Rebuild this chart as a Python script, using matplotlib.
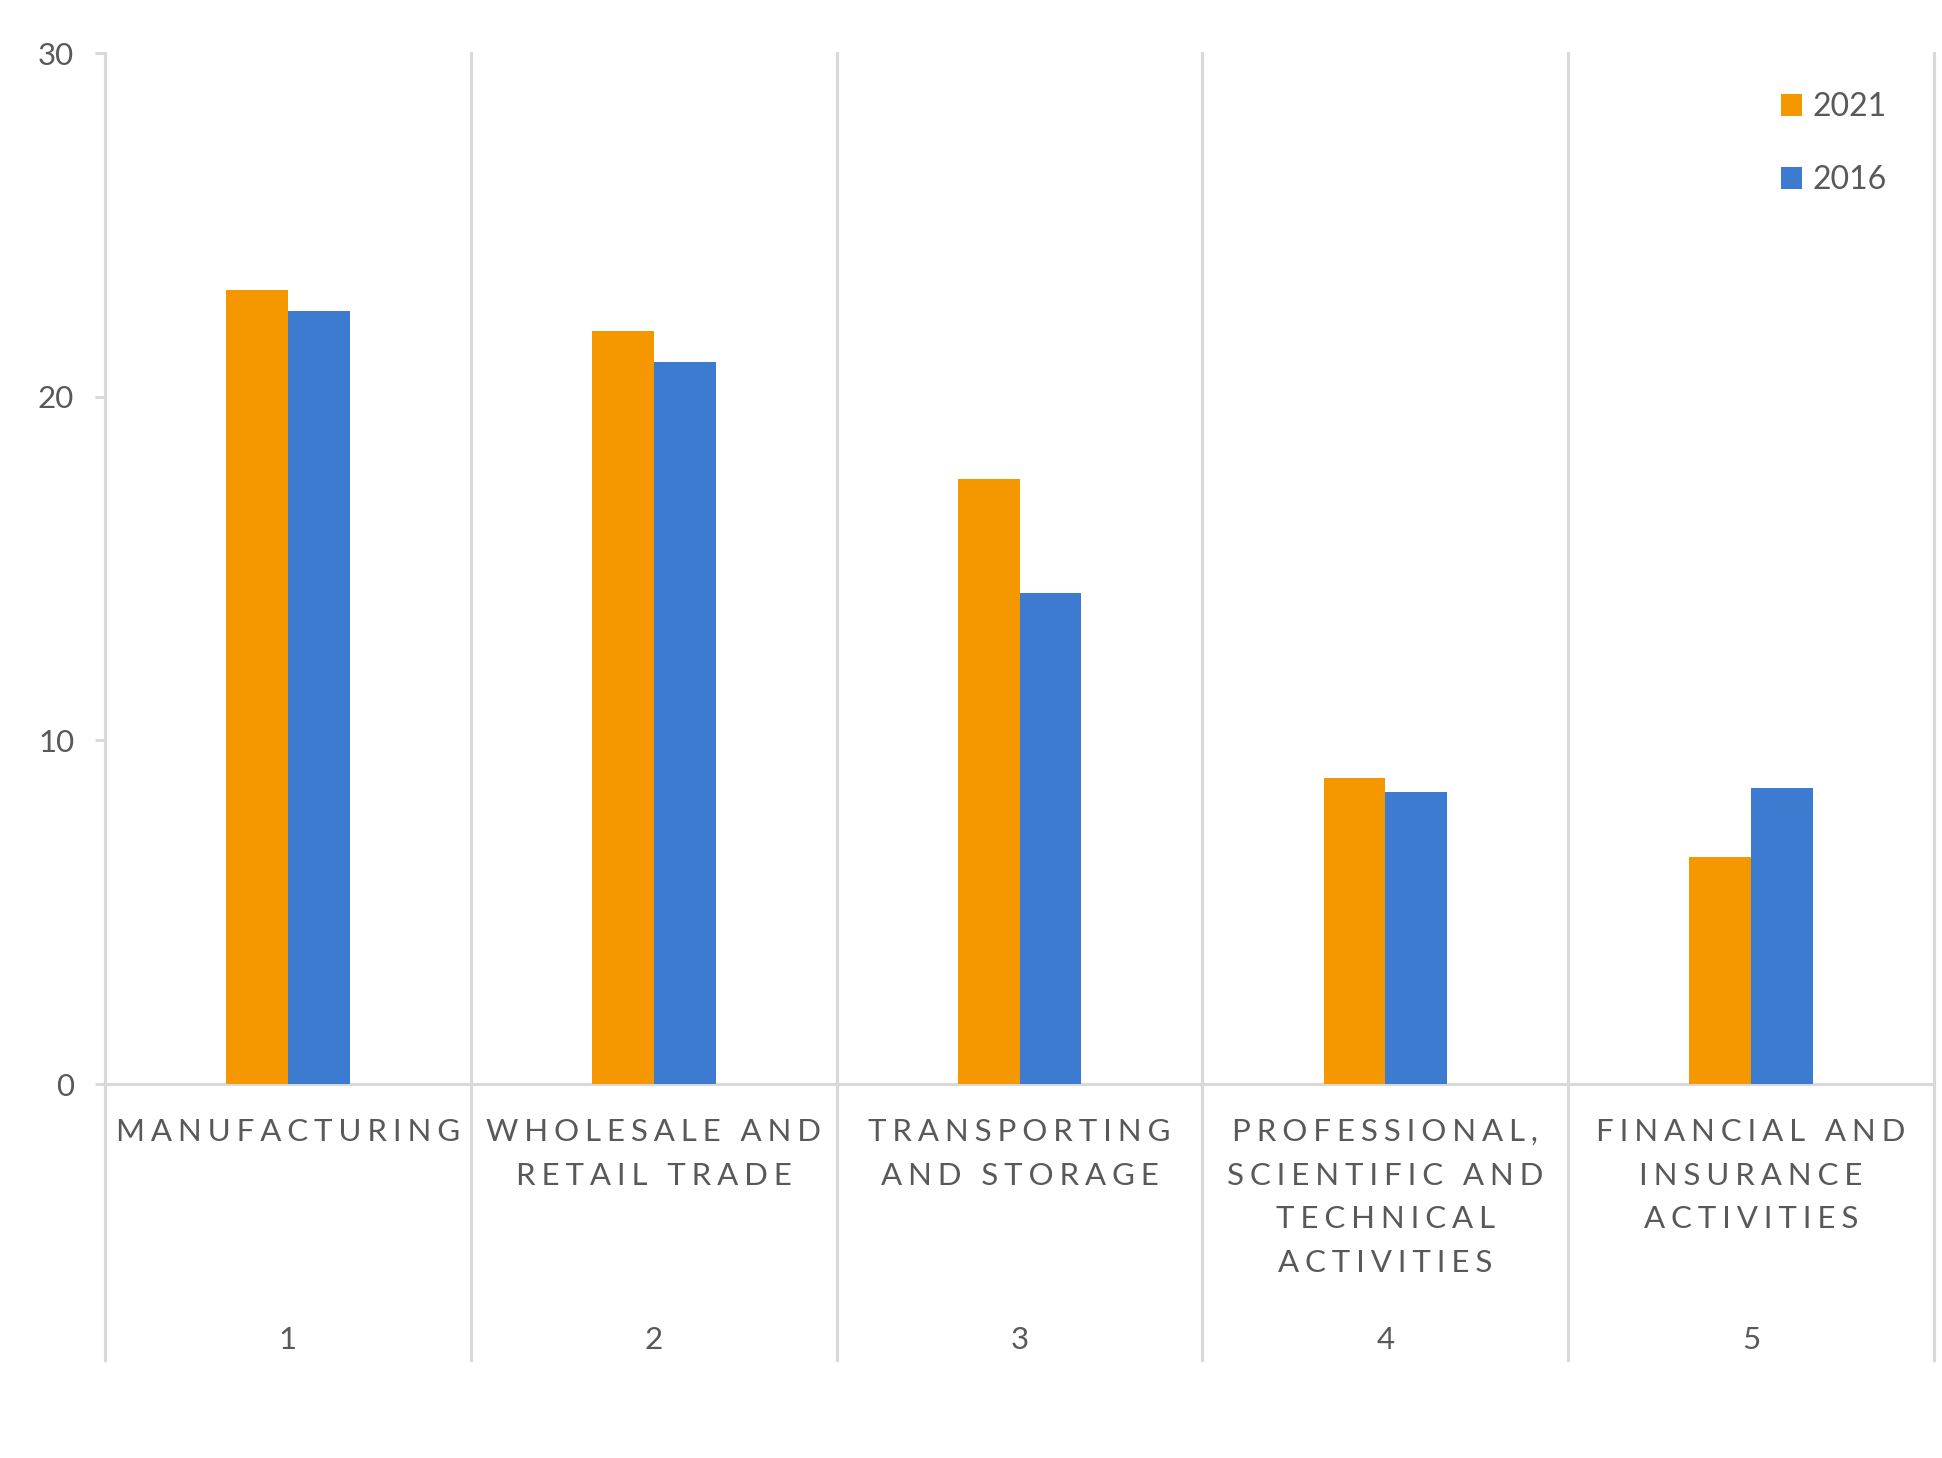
import matplotlib as mpl
mpl.use('agg')
import matplotlib.pyplot as plt
import matplotlib.transforms as mtransforms
import numpy as np

# data
categories = ['MANUFACTURING', 'WHOLESALE AND\nRETAIL TRADE', 'TRANSPORTING\nAND STORAGE',
              'PROFESSIONAL,\nSCIENTIFIC AND\nTECHNICAL\nACTIVITIES',
              'FINANCIAL AND\nINSURANCE\nACTIVITIES']
ranks = ['1', '2', '3', '4', '5']
vals_2021 = [23.1, 21.9, 17.6, 8.9, 6.6]
vals_2016 = [22.5, 21.0, 14.3, 8.5, 8.6]
yticks = [0, 10, 20, 30]

ORANGE = '#F59800'
BLUE = '#3D7BD0'
GRID = '#D9D9D9'
TXT = '#595959'
FONT = ['Lato', 'DejaVu Sans']


def spaced(s):
    # fake letter spacing with thin + hair spaces
    gap = '\u200a\u2009'
    lines = []
    for line in s.split('\n'):
        words = [gap.join(w) for w in line.split(' ')]
        lines.append((gap + ' ' + gap).join(words))
    return '\n'.join(lines)


plt.rcParams['font.family'] = FONT
fig = plt.figure(figsize=(19.42, 14.58), dpi=100)
ax = fig.add_axes([0.0541, 0.2565, 0.9418, 0.7071])

x = np.arange(len(categories))
w = 0.169
ax.bar(x - w / 2, vals_2021, w, color=ORANGE, label='2021', zorder=2)
ax.bar(x + w / 2, vals_2016, w, color=BLUE, label='2016', zorder=2)

ax.set_xlim(-0.5, len(categories) - 0.5)
ax.set_ylim(0, 30)
ax.set_yticks(yticks)
ax.set_yticklabels([str(t) for t in yticks])
ax.set_xticks([])
ax.tick_params(axis='y', direction='out', length=7.2, width=2.2, color=GRID,
               labelcolor=TXT, labelsize=22.5, pad=15)

for sp in ['top', 'right', 'bottom']:
    ax.spines[sp].set_visible(False)
ax.spines['left'].set_color(GRID)
ax.spines['left'].set_linewidth(2.2)
ax.axhline(0, color=GRID, lw=2.2, zorder=1, clip_on=False)

# category separators running down through the label area
for xs in np.arange(-0.5, len(categories), 1.0):
    ax.axvline(xs, ymin=-0.268, ymax=1, color=GRID, lw=2.2, clip_on=False, zorder=1)

trans = mtransforms.blended_transform_factory(ax.transData, ax.transAxes)
for i, (c, r) in enumerate(zip(categories, ranks)):
    ax.text(i, -0.033, spaced(c), transform=trans, ha='center', va='top',
            fontsize=22.5, color=TXT, linespacing=1.68, multialignment='center')
    ax.text(i, -0.248, r, transform=trans, ha='center', va='center',
            fontsize=22.5, color=TXT)

leg = ax.legend(loc='upper right', bbox_to_anchor=(0.99, 0.99), frameon=False,
                handlelength=0.65, handleheight=0.65, handletextpad=0.35,
                labelspacing=1.35, fontsize=23)
for t in leg.get_texts():
    t.set_color(TXT)

fig.savefig('out.png', dpi=100, facecolor='white')
plt.close(fig)
